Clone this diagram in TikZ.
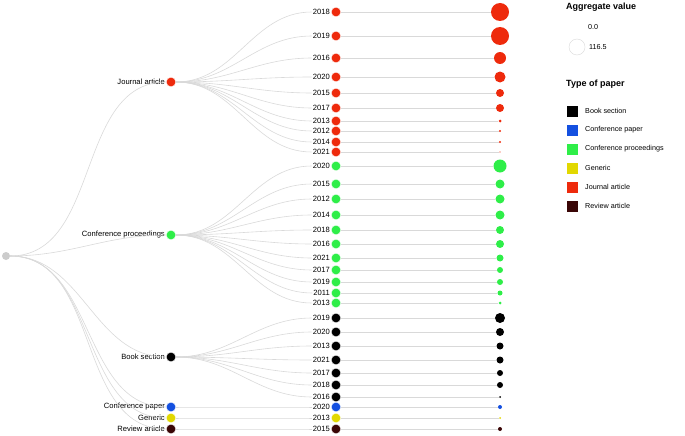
\documentclass[tikz,border=0pt]{standalone}
\usepackage{fontspec}
\setmainfont{Liberation Sans}
\definecolor{cJ}{HTML}{EE2A0C}
\definecolor{cC}{HTML}{2EEE48}
\definecolor{cB}{HTML}{000000}
\definecolor{cP}{HTML}{1450E0}
\definecolor{cG}{HTML}{E2D800}
\definecolor{cR}{HTML}{3A0606}
\begin{document}
\begin{tikzpicture}[x=1pt,y=-1pt,
  dotn/.style={circle,inner sep=0pt,minimum size=9.5pt,fill=#1,draw=white,line width=0.3pt},
  agg/.style={circle,inner sep=0pt,fill=#1},
  lnk/.style={draw=black!15,line width=0.6pt},
  lab/.style={font=\fontsize{7.6}{8}\selectfont,anchor=east,inner sep=1pt},
  leg/.style={font=\fontsize{7.2}{8}\selectfont,anchor=west,inner sep=0pt}]
\useasboundingbox (0,0) rectangle (685,436);
\node[circle,fill=black!20,inner sep=0pt,minimum size=8pt] (root) at (6,256) {};
% middle nodes
\foreach \n/\y/\c/\t in {J/82/cJ/Journal article,C/235/cC/Conference proceedings,B/357/cB/Book section,P/407/cP/Conference paper,G/418/cG/Generic,R/429/cR/Review article}{
  \node[dotn=\c] (m\n) at (171,\y) {};
  \node[lab] (t\n) at (166,\y) {\t};
  \draw[lnk] (root) to[out=0,in=180] (m\n);
}
% leaves
\foreach \g/\c/\yr/\y/\r [count=\i] in {
 J/cJ/2018/12/9, J/cJ/2019/36/9, J/cJ/2016/58/6, J/cJ/2020/77/5.5, J/cJ/2015/93/4, J/cJ/2017/108/4, J/cJ/2013/121/1.5, J/cJ/2012/131/1.2, J/cJ/2014/142/1.2, J/cJ/2021/152/0.6,
 C/cC/2020/166/6.5, C/cC/2015/184/4.5, C/cC/2012/199/4.5, C/cC/2014/215/4.5, C/cC/2018/230/4, C/cC/2016/244/4, C/cC/2021/258/3.5, C/cC/2017/270/3, C/cC/2019/282/3, C/cC/2011/293/2.5, C/cC/2013/303/1.5,
 B/cB/2019/318/5, B/cB/2020/332/4, B/cB/2013/346/3.5, B/cB/2021/360/3.5, B/cB/2017/373/3, B/cB/2018/385/3, B/cB/2016/397/1,
 P/cP/2020/407/2, G/cG/2013/418/1, R/cR/2015/429/2}{
  \node[dotn=\c] (l\i) at (336,\y) {};
  \node[lab] (y\i) at (331,\y) {\yr};
  \node[agg=\c,minimum size=2*\r pt] (a\i) at (500,\y) {};
  \draw[lnk] (m\g) to[out=0,in=180] (y\i.west);
  \draw[lnk] (l\i) -- (a\i);
}
% legend
\node[leg,font=\fontsize{9}{10}\selectfont\bfseries] (lg1) at (566,7) {Aggregate value};
\node[leg] (v0) at (588,27) {0.0};
\node[circle,draw=black!15,inner sep=0pt,minimum size=16pt] (vc) at (577,47) {};
\node[leg] (v1) at (589,47) {116.5};
\node[leg,font=\fontsize{9}{10}\selectfont\bfseries] (lg2) at (566,84) {Type of paper};
\foreach \c/\t [count=\k] in {cB/Book section,cP/Conference paper,cC/Conference proceedings,cG/Generic,cJ/Journal article,cR/Review article}{
  \node[fill=\c,inner sep=0pt,minimum size=11pt] (s\k) at (572,111+\k*19-19) {};
  \node[leg] (st\k) at (585,111+\k*19-19) {\t};
}
\end{tikzpicture}
\end{document}
